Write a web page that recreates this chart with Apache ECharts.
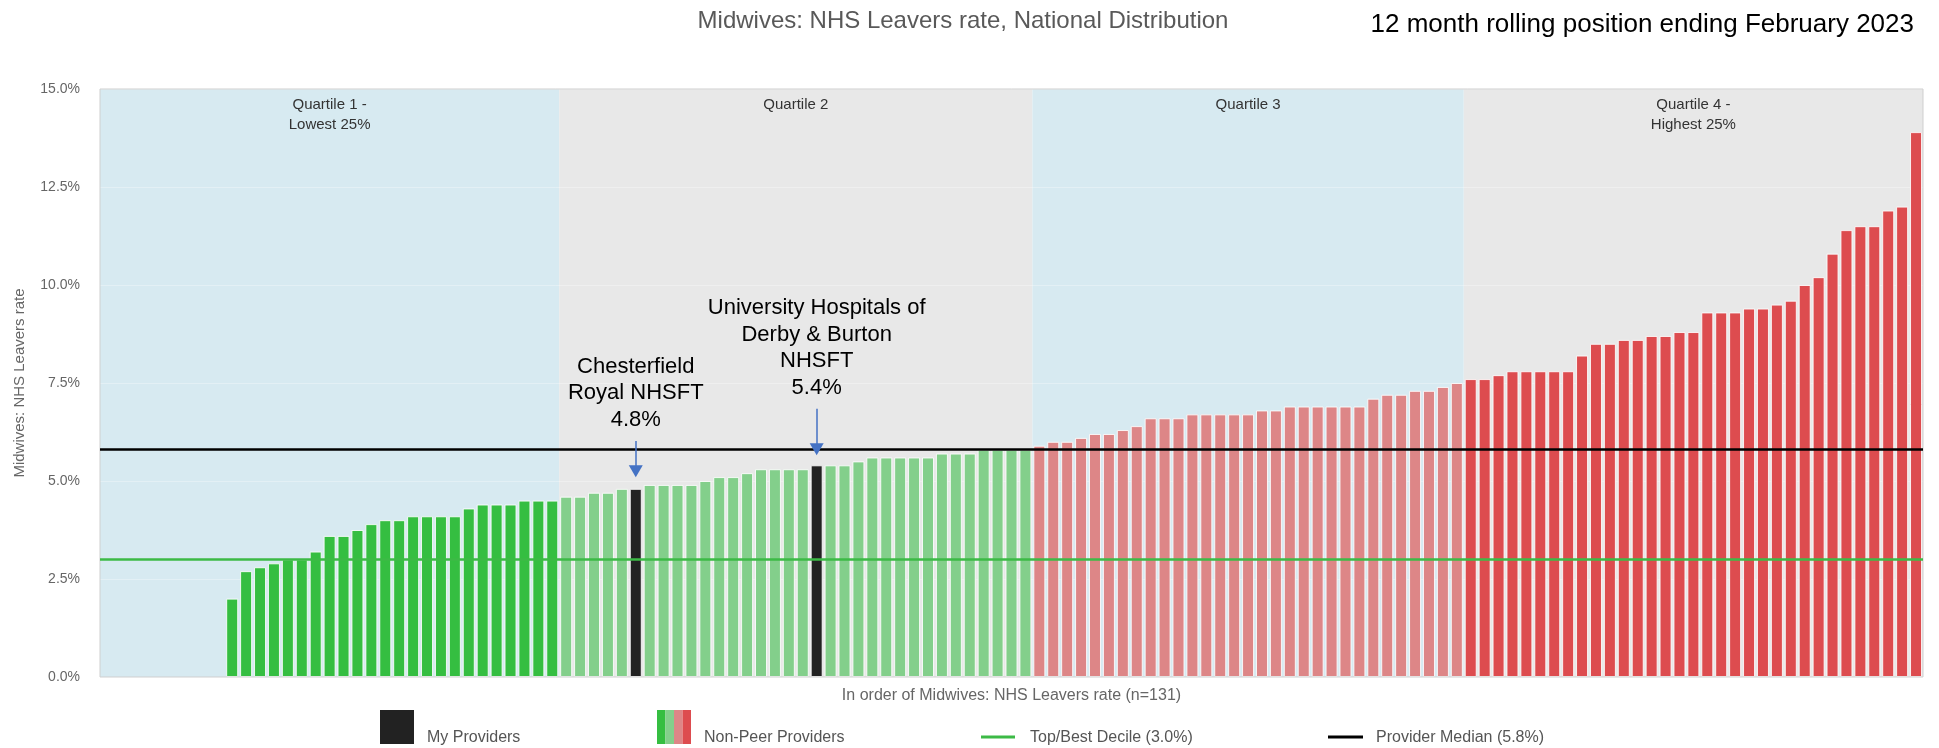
<!DOCTYPE html>
<html><head><meta charset="utf-8">
<script src="https://cdn.jsdelivr.net/npm/echarts@6/dist/echarts.min.js"></script>
<style>html,body{margin:0;padding:0;background:#fff}#c{width:1939px;height:748px}</style>
</head><body><div id="c"></div>
<script>
// ---- data ----
const quartile1Values = [0,0,0,0,0,0,0,0,0,2.0,2.7,2.8,2.9,3.0,3.0,3.2,3.6,3.6,3.75,3.9,4.0,4.0,4.1,4.1,4.1,4.1,4.3,4.4,4.4,4.4,4.5,4.5,4.5];
const quartile2Values = [4.6,4.6,4.7,4.7,4.8,4.8,4.9,4.9,4.9,4.9,5.0,5.1,5.1,5.2,5.3,5.3,5.3,5.3,5.4,5.4,5.4,5.5,5.6,5.6,5.6,5.6,5.6,5.7,5.7,5.7,5.8,5.8,5.8,5.8];
const quartile3Values = [5.9,6.0,6.0,6.1,6.2,6.2,6.3,6.4,6.6,6.6,6.6,6.7,6.7,6.7,6.7,6.7,6.8,6.8,6.9,6.9,6.9,6.9,6.9,6.9,7.1,7.2,7.2,7.3,7.3,7.4,7.5];
const quartile4Values = [7.6,7.6,7.7,7.8,7.8,7.8,7.8,7.8,8.2,8.5,8.5,8.6,8.6,8.7,8.7,8.8,8.8,9.3,9.3,9.3,9.4,9.4,9.5,9.6,10.0,10.2,10.8,11.4,11.5,11.5,11.9,12.0,13.9];
const quartileLabels = ['Quartile 1 -\nLowest 25%', 'Quartile 2', 'Quartile 3', 'Quartile 4 -\nHighest 25%'];
const myProviderNames = ['Chesterfield\nRoyal NHSFT', 'University Hospitals of\nDerby & Burton\nNHSFT'];
const myProviderRanks = [38, 51];
const topDecile = 3.0;
const providerMedian = 5.8;
const yTickValues = [0, 2.5, 5, 7.5, 10, 12.5, 15];
const legendLabels = ['My Providers', 'Non-Peer Providers', 'Top/Best Decile (3.0%)', 'Provider Median (5.8%)'];

// ---- styles ----
const FONT = '"Liberation Sans", Arial, sans-serif';
const quartileColors = ['#35be41', '#83cf8b', '#dd8687', '#dd4c4f'];
const bandColors = ['#d7eaf1', '#e8e8e8', '#d7eaf1', '#e8e8e8'];
const myColor = '#222222';
const calloutLayout = [ // offsets above bar in value units: arrow tip, arrow tail, label bottom
  {tip: 0.45, tail: 1.22, label: 1.43},
  {tip: 0.41, tail: 1.44, label: 1.64}
];

const quartiles = [quartile1Values, quartile2Values, quartile3Values, quartile4Values];
const allValues = [].concat(...quartiles);
const n = allValues.length;

const barData = [];
const bands = [];
let idx = 0;
quartiles.forEach((q, qi) => {
  const start = idx;
  q.forEach(v => {
    const mine = myProviderRanks.indexOf(idx) >= 0;
    barData.push({
      value: [idx, v],
      itemStyle: {
        color: mine ? myColor : quartileColors[qi],
        borderWidth: v > 0 ? 1 : 0
      }
    });
    idx++;
  });
  bands.push([
    {xAxis: start - 0.5, name: quartileLabels[qi], itemStyle: {color: bandColors[qi]}},
    {xAxis: idx - 0.5}
  ]);
});

const arrowLines = myProviderRanks.map((r, i) => [
  {coord: [r, allValues[r] + calloutLayout[i].tail]},
  {coord: [r, allValues[r] + calloutLayout[i].tip]}
]);
const calloutPoints = myProviderRanks.map((r, i) => ({
  coord: [r, allValues[r] + calloutLayout[i].label],
  label: {formatter: myProviderNames[i] + '\n' + allValues[r].toFixed(1) + '%'}
}));

const chart = echarts.init(document.getElementById('c'), null, {renderer: 'canvas'});
chart.setOption({
  animation: false,
  textStyle: {fontFamily: FONT},
  grid: {left: 100, right: 16, top: 89, bottom: 71, show: true, borderColor: '#cfcfcf', borderWidth: 1, backgroundColor: 'transparent', z: 5},
  xAxis: {
    type: 'value', min: -0.5, max: n - 0.5,
    axisLabel: {show: false}, axisTick: {show: false}, axisLine: {show: false}, splitLine: {show: false},
    name: 'In order of Midwives: NHS Leavers rate (n=' + n + ')',
    nameLocation: 'middle', nameGap: 11,
    nameTextStyle: {color: '#666', fontSize: 16, fontFamily: FONT, verticalAlign: 'top'}
  },
  yAxis: {
    type: 'value', min: yTickValues[0], max: yTickValues[yTickValues.length - 1], interval: yTickValues[1] - yTickValues[0],
    z: 1.5,
    axisLabel: {formatter: v => v.toFixed(1) + '%', color: '#666', fontSize: 14, margin: 20, fontFamily: FONT},
    axisTick: {show: false}, axisLine: {show: false},
    splitLine: {show: true, lineStyle: {color: 'rgba(255,255,255,0.3)', width: 1}},
    name: 'Midwives: NHS Leavers rate', nameLocation: 'middle', nameGap: 73,
    nameTextStyle: {color: '#666', fontSize: 15, fontFamily: FONT}
  },
  series: [
    {
      type: 'line', data: [], z: 1, silent: true,
      markArea: {
        silent: true,
        label: {show: true, position: 'insideTop', distance: 6, color: '#333', fontSize: 15, lineHeight: 20, fontFamily: FONT},
        data: bands
      }
    },
    {
      type: 'bar', data: barData, barWidth: 12, z: 2, silent: true,
      itemStyle: {borderColor: 'rgba(255,255,255,0.85)'},
      markLine: {
        silent: true, symbol: 'none', label: {show: false},
        data: [
          {yAxis: providerMedian, lineStyle: {color: '#000', width: 2.5, type: 'solid'}},
          {yAxis: topDecile, lineStyle: {color: '#3cba46', width: 2.5, type: 'solid'}}
        ]
      }
    },
    {
      type: 'line', data: [], z: 4, silent: true,
      markLine: {
        silent: true, symbol: ['none', 'triangle'], symbolSize: [14, 12], label: {show: false},
        lineStyle: {color: '#4472c4', width: 1.5, type: 'solid'},
        data: arrowLines
      },
      markPoint: {
        silent: true, symbol: 'rect', symbolSize: 0,
        label: {show: true, position: 'top', distance: 0, color: '#000', fontSize: 22, lineHeight: 26.5, align: 'center', fontFamily: FONT},
        data: calloutPoints
      }
    }
  ],
  graphic: [
    {type: 'text', style: {text: 'Midwives: NHS Leavers rate, National Distribution', x: 963, y: 21, align: 'center', verticalAlign: 'middle', fill: '#595959', font: '24px ' + FONT}},
    {type: 'text', style: {text: '12 month rolling position ending February 2023', x: 1914, y: 25, align: 'right', verticalAlign: 'middle', fill: '#000', font: '26px ' + FONT}},
    {type: 'rect', shape: {x: 380, y: 710, width: 34, height: 34}, style: {fill: myColor}},
    {type: 'text', style: {text: legendLabels[0], x: 427, y: 738, verticalAlign: 'middle', fill: '#555', font: '16px ' + FONT}},
    {type: 'rect', shape: {x: 657, y: 710, width: 8.5, height: 34}, style: {fill: quartileColors[0]}},
    {type: 'rect', shape: {x: 665.5, y: 710, width: 8.5, height: 34}, style: {fill: quartileColors[1]}},
    {type: 'rect', shape: {x: 674, y: 710, width: 8.5, height: 34}, style: {fill: quartileColors[2]}},
    {type: 'rect', shape: {x: 682.5, y: 710, width: 8.5, height: 34}, style: {fill: quartileColors[3]}},
    {type: 'text', style: {text: legendLabels[1], x: 704, y: 738, verticalAlign: 'middle', fill: '#555', font: '16px ' + FONT}},
    {type: 'line', shape: {x1: 981, y1: 737, x2: 1015, y2: 737}, style: {stroke: '#3cba46', lineWidth: 3}},
    {type: 'text', style: {text: legendLabels[2], x: 1030, y: 738, verticalAlign: 'middle', fill: '#555', font: '16px ' + FONT}},
    {type: 'line', shape: {x1: 1328, y1: 737, x2: 1363, y2: 737}, style: {stroke: '#000', lineWidth: 3}},
    {type: 'text', style: {text: legendLabels[3], x: 1376, y: 738, verticalAlign: 'middle', fill: '#555', font: '16px ' + FONT}}
  ]
});
</script>
</body></html>
